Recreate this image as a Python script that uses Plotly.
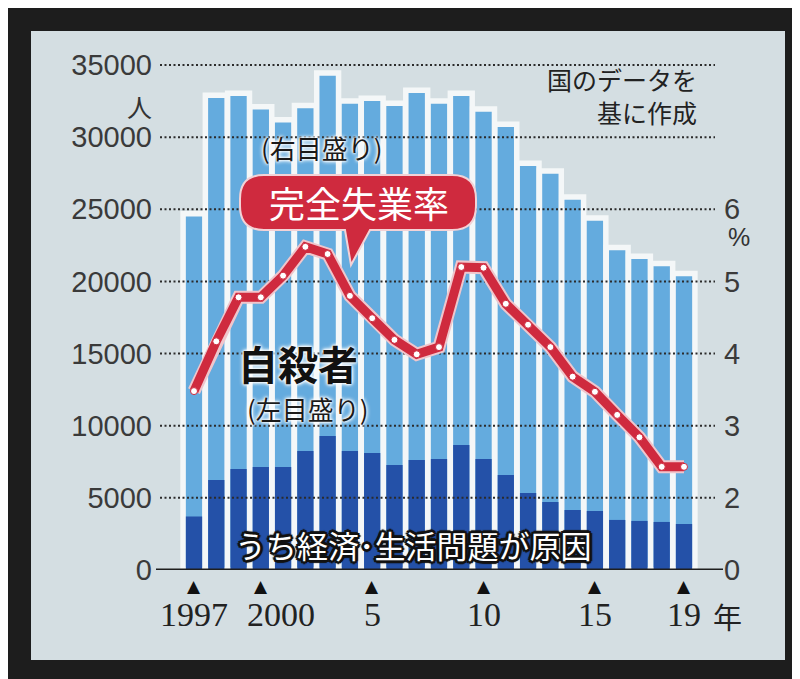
import plotly.graph_objects as go

# ---------------- data ----------------
years = list(range(1997, 2020))
total_suicides = [24700, 32900, 33050, 32100, 31200, 32200, 34450, 32500, 32700, 32350,
                  33250, 32500, 33050, 31950, 30900, 28200, 27650, 25850, 24400, 22350,
                  21750, 21250, 20550]
economic_suicides = [3700, 6240, 7000, 7140, 7140, 8250, 9290, 8250, 8110, 7280,
                     7620, 7690, 8660, 7690, 6590, 5340, 4710, 4160, 4090, 3470,
                     3400, 3330, 3190]
unemployment_rate = [3.48, 4.17, 4.78, 4.78, 5.08, 5.48, 5.38, 4.80, 4.49, 4.19,
                     3.99, 4.09, 5.20, 5.19, 4.69, 4.40, 4.09, 3.68, 3.47, 3.15,
                     2.84, 2.43, 2.43]
left_ticks = [0, 5000, 10000, 15000, 20000, 25000, 30000, 35000]
right_tickvals = [1, 2, 3, 4, 5, 6]          # broken axis: bottom mark reads 0
right_ticktext = ["0", "2", "3", "4", "5", "6"]
x_tickvals = [1997, 2000, 2005, 2010, 2015, 2019]
x_ticktext = ["1997", "2000", "5", "10", "15", "19"]

# ---------------- geometry helpers ----------------
W, H = 800, 679
L, R, T, B = 148, 707, 50, 562
PW, PH = R - L, B - T
per_year = 22.27
x_lo = 1997 - (186 - L) / per_year
x_hi = 2019 + (R - 676) / per_year
y_hi = PH / 72.14 * 5000
y2_lo = 1
y2_hi = 1 + y_hi / 5000


def px(x):
    return (x - L) / PW


def py(y):
    return (B - y) / PH


LIGHT = "#64abde"
DARK = "#2451a8"
RED = "#cf2a3e"
JP = "Noto Sans CJK JP"

fig = go.Figure()

fig.add_trace(go.Bar(x=years, y=total_suicides, width=0.98,
                     marker=dict(color=LIGHT, line=dict(color="#f4f7f8", width=5.5)),
                     hoverinfo="skip", showlegend=False))
fig.add_trace(go.Bar(x=years, y=economic_suicides, width=0.73,
                     marker=dict(color=DARK, line=dict(width=0)),
                     hoverinfo="skip", showlegend=False))

# dotted grid lines above bars
gx0 = x_lo + 4 / per_year
gx1 = x_hi
gxs, gys = [], []
for v in left_ticks[1:]:
    gxs += [gx0, gx1, None]
    gys += [v, v, None]
fig.add_trace(go.Scatter(x=gxs, y=gys, mode="lines",
                         line=dict(color="#2b2b2b", width=2, dash="2px,2.5px"),
                         hoverinfo="skip", showlegend=False))

# unemployment line (right axis)
fig.add_trace(go.Scatter(x=years, y=unemployment_rate, yaxis="y2", mode="lines",
                         line=dict(color="#f0c6cc", width=13),
                         hoverinfo="skip", showlegend=False))
fig.add_trace(go.Scatter(x=years, y=unemployment_rate, yaxis="y2", mode="lines+markers",
                         line=dict(color=RED, width=9),
                         marker=dict(color="white", size=7, line=dict(color=RED, width=1)),
                         hoverinfo="skip", showlegend=False))

shapes = []
# light panel on dark frame
shapes.append(dict(type="rect", xref="paper", yref="paper", layer="below",
                   x0=px(23), x1=px(777), y0=py(652), y1=py(23),
                   fillcolor="#d4dee2", line=dict(width=0)))
# baseline
shapes.append(dict(type="line", xref="paper", yref="y", layer="above",
                   x0=0, x1=px(715), y0=0, y1=0,
                   line=dict(color="#1e1e1e", width=3)))

# callout box for 完全失業率
bx0, bx1, by0, by1, r = 232, 468, 167, 222, 24
pts = [
    ("M", bx0 + r, by0), ("L", bx1 - r, by0), ("Q", bx1, by0, bx1, by0 + r),
    ("L", bx1, by1 - r), ("Q", bx1, by1, bx1 - r, by1), ("L", 362, by1),
    ("L", 343, 257), ("L", 337, by1), ("L", bx0 + r, by1),
    ("Q", bx0, by1, bx0, by1 - r), ("L", bx0, by0 + r), ("Q", bx0, by0, bx0 + r, by0),
]
path = ""
for p in pts:
    cmd = p[0]
    coords = p[1:]
    s = []
    for i in range(0, len(coords), 2):
        s.append(f"{px(coords[i]):.5f},{py(coords[i+1]):.5f}")
    path += cmd + " " + " ".join(s) + " "
path += "Z"
shapes.append(dict(type="path", xref="paper", yref="paper", layer="above", path=path,
                   fillcolor=RED, line=dict(color="#f3d2d6", width=2)))

halo = "0 0 2px #fff, 0 0 3px #fff, 0 0 4px #fff, 0 0 5px #fff"
blk = ("#111 2px 0 0, #111 -2px 0 0, #111 0 2px 0, #111 0 -2px 0, "
       "#111 2px 2px 0, #111 -2px -2px 0, #111 2px -2px 0, #111 -2px 2px 0, "
       "#111 3px 0 1px, #111 -3px 0 1px, #111 0 3px 1px, #111 0 -3px 1px")

ann = []


def add_text(text, x, y, size, color="#1a1a1a", family=JP, weight="normal",
             xanchor="center", shadow="none", align="center"):
    ann.append(dict(text=text, xref="paper", yref="paper", x=px(x), y=py(y),
                    xanchor=xanchor, yanchor="middle", showarrow=False, align=align,
                    font=dict(family=family, size=size, color=color, weight=weight,
                              shadow=shadow)))


add_text("人", 131, 98, 25, color="#333")
add_text("%", 731, 229, 25, color="#333", family="Liberation Sans")
add_text("国のデータを<br>基に作成", 691, 87, 25, color="#222", xanchor="right",
         align="right")
add_text("(右目盛り)", 314, 139, 26, shadow=halo)
add_text("完全失業率", 351, 194, 36, color="white", weight="normal")
add_text("自殺者", 290, 355, 40, color="#111", weight="bold", shadow=halo)
add_text("(左目盛り)", 300, 400, 26, shadow=halo)
add_text("うち経済･生活問題が原因", 405, 536, 31, color="white", shadow=blk)
add_text("年", 719, 608, 29, color="#222")

# x tick labels and triangles
for v, t in zip(x_tickvals, x_ticktext):
    ann.append(dict(text="▲", x=v, xref="x", y=py(578), yref="paper",
                    xanchor="center", yanchor="middle", showarrow=False,
                    font=dict(family="DejaVu Sans", size=17, color="#111")))
    ann.append(dict(text=t, x=v, xref="x", y=py(606), yref="paper",
                    xanchor="center", yanchor="middle", showarrow=False,
                    xshift=20 if t == "2000" else 0,
                    font=dict(family="Liberation Serif", size=34, color="#222")))

fig.update_layout(
    width=W, height=H,
    margin=dict(l=L, r=W - R, t=T, b=H - B, pad=0),
    paper_bgcolor="#1d1d1d",
    plot_bgcolor="rgba(0,0,0,0)",
    barmode="overlay",
    showlegend=False,
    shapes=shapes,
    annotations=ann,
    xaxis=dict(range=[x_lo, x_hi], showgrid=False, zeroline=False, showline=False,
               showticklabels=False, ticks="", fixedrange=True),
    yaxis=dict(range=[0, y_hi], tickvals=left_ticks, ticktext=[str(v) for v in left_ticks],
               showgrid=False, zeroline=False, showline=False, ticks="",
               ticklabelstandoff=3,
               tickfont=dict(family="Liberation Sans", size=29, color="#3a3a3a"),
               fixedrange=True),
    yaxis2=dict(range=[y2_lo, y2_hi], overlaying="y", side="right",
                tickvals=right_tickvals, ticktext=right_ticktext,
                showgrid=False, zeroline=False, showline=False, ticks="",
                ticklabelstandoff=8,
                tickfont=dict(family="Liberation Sans", size=29, color="#3a3a3a"),
                fixedrange=True),
)

fig.write_html("out.html")
